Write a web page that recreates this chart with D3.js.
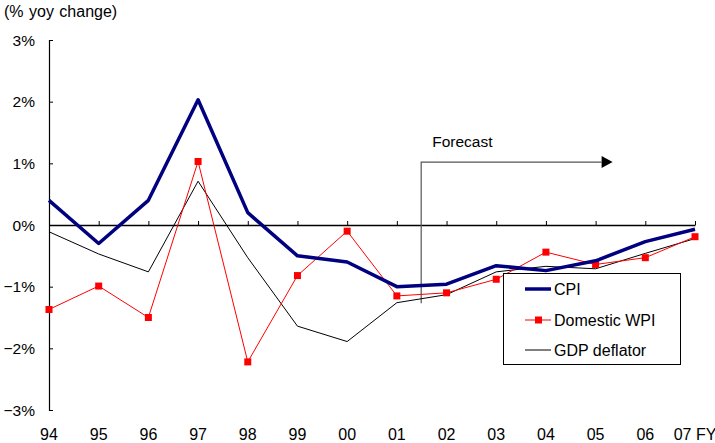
<!DOCTYPE html>
<html><head><meta charset="utf-8">
<script src="https://cdn.jsdelivr.net/npm/d3@7"></script>
<style>body{margin:0;background:#fff}svg{display:block}text{font-family:"Liberation Sans",Arial,sans-serif;fill:#000}</style>
</head><body>
<svg id="c" width="715" height="443"></svg>
<script>
const years = ["94","95","96","97","98","99","00","01","02","03","04","05","06","07"];
const xTickLabels = ["94","95","96","97","98","99","00","01","02","03","04","05","06","07 FY"];
const cpi = [0.40,-0.30,0.40,2.03,0.20,-0.50,-0.60,-1.00,-0.96,-0.66,-0.74,-0.58,-0.27,-0.07];
const wpi = [-1.37,-0.99,-1.50,1.03,-2.22,-0.82,-0.10,-1.15,-1.10,-0.88,-0.44,-0.64,-0.53,-0.19];
const gdp = [-0.11,-0.47,-0.76,0.71,-0.53,-1.64,-1.89,-1.26,-1.13,-0.76,-0.67,-0.71,-0.46,-0.22];
const yTicks = [3,2,1,0,-1,-2,-3];
const yTickLabels = ["3%","2%","1%","0%","\u22121%","\u22122%","\u22123%"];
const seriesNames = ["CPI","Domestic WPI","GDP deflator"];
const forecastLabel = "Forecast";
const unitLabel = "(% yoy change)";

const svg = d3.select("#c");
const x = d3.scalePoint().domain(years).range([49,695]);
const y = d3.scaleLinear().domain([-3,3]).range([410,40]);

svg.append("text").attr("x",4).attr("y",17).attr("font-size",16).attr("word-spacing",1).text(unitLabel);

// y axis
const ya = svg.append("g").attr("transform","translate(49,0)")
  .call(d3.axisRight(y).tickValues(yTicks).tickSize(4).tickFormat(""));
ya.select(".domain").attr("stroke","#000").attr("stroke-width",1.2);
ya.selectAll(".tick line").attr("stroke","#000");
svg.selectAll(".ylab").data(yTicks).enter().append("text")
  .attr("x",35).attr("y",d=>y(d)+5.5).attr("text-anchor","end").attr("font-size",15.5)
  .text((d,i)=>yTickLabels[i]);

// x axis at zero
const xa = svg.append("g").attr("transform",`translate(0,${y(0)})`)
  .call(d3.axisTop(x).tickSize(4).tickSizeOuter(0).tickFormat(""));
xa.select(".domain").attr("stroke","#000").attr("stroke-width",1.5);
xa.selectAll(".tick line").attr("stroke","#000");
svg.selectAll(".xlab").data(years).enter().append("text")
  .attr("x",d=>x(d)).attr("y",440).attr("text-anchor","middle").attr("font-size",16)
  .text((d,i)=>xTickLabels[i]);

// forecast arrow
const fx = (x("01")+x("02"))/2 - 0.5;
svg.append("path").attr("d",`M${fx},${y(-1.27)}V${y(1.02)}H${x("05")+6}`)
  .attr("fill","none").attr("stroke","#555").attr("stroke-width",1.2);
const ay = y(1.02);
svg.append("path").attr("d",`M${x("05")+6},${ay-6}L${x("05")+17},${ay}L${x("05")+6},${ay+6}Z`).attr("fill","#000");
svg.append("text").attr("x",fx+11).attr("y",147).attr("font-size",15.5).text(forecastLabel);

const line = d3.line().x((d,i)=>x(years[i])).y(d=>y(d));
svg.append("path").datum(gdp).attr("d",line).attr("fill","none").attr("stroke","#000").attr("stroke-width",1);
svg.append("path").datum(wpi).attr("d",line).attr("fill","none").attr("stroke","#ff0000").attr("stroke-width",1);
svg.selectAll(".wm").data(wpi).enter().append("rect")
  .attr("x",(d,i)=>x(years[i])-3.5).attr("y",d=>y(d)-3.5).attr("width",7).attr("height",7).attr("fill","#ff0000");
svg.append("path").datum(cpi).attr("d",line).attr("fill","none").attr("stroke","#000080").attr("stroke-width",3.5).attr("stroke-linejoin","round");

// legend
const lg = svg.append("g");
lg.append("rect").attr("x",503.5).attr("y",273.5).attr("width",177).attr("height",91).attr("fill","#fff").attr("stroke","#000").attr("stroke-width",1);
const ly = [289,320,350];
lg.append("line").attr("x1",525).attr("x2",551).attr("y1",ly[0]).attr("y2",ly[0]).attr("stroke","#000080").attr("stroke-width",3.5);
lg.append("line").attr("x1",525).attr("x2",551).attr("y1",ly[1]).attr("y2",ly[1]).attr("stroke","#ff0000").attr("stroke-width",1);
lg.append("rect").attr("x",535).attr("y",ly[1]-3.5).attr("width",7).attr("height",7).attr("fill","#ff0000");
lg.append("line").attr("x1",525).attr("x2",551).attr("y1",ly[2]).attr("y2",ly[2]).attr("stroke","#000").attr("stroke-width",1);
seriesNames.forEach((n,i)=>lg.append("text").attr("x",554).attr("y",ly[i]+6).attr("font-size",16).text(n));
</script>
</body></html>
